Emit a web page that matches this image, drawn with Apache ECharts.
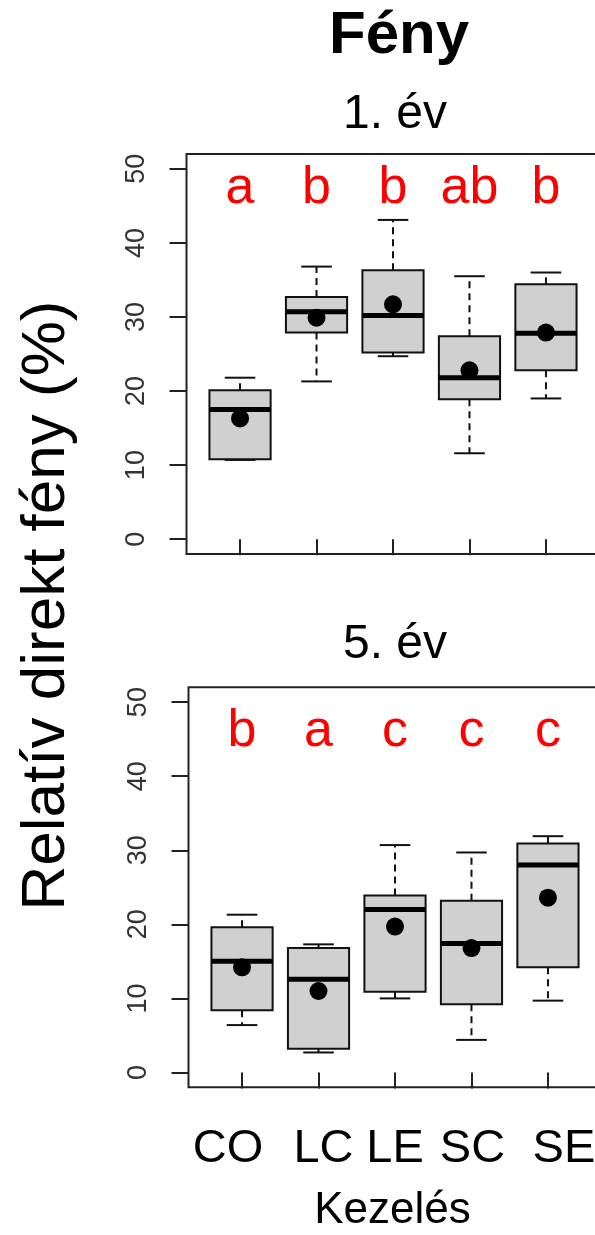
<!DOCTYPE html>
<html>
<head>
<meta charset="utf-8">
<script src="https://cdn.jsdelivr.net/npm/echarts@6/dist/echarts.min.js"></script>
<style>
html,body{margin:0;padding:0;background:#fff;}
#chart{width:595px;height:1235px;}
</style>
</head>
<body>
<div id="chart"></div>
<script>
// ---- data ----
const categories = ['CO', 'LC', 'LE', 'SC', 'SE'];
const yTicks = [0, 10, 20, 30, 40, 50];

// 1. év
const year1Min    = [10.7, 21.3, 24.7, 11.6, 19.0];
const year1Q1     = [10.8, 27.9, 25.2, 18.9, 22.8];
const year1Median = [17.5, 30.7, 30.2, 21.8, 27.8];
const year1Q3     = [20.1, 32.7, 36.3, 27.4, 34.4];
const year1Max    = [21.8, 36.8, 43.1, 35.5, 36.0];
const year1Mean   = [16.3, 29.9, 31.7, 22.8, 27.9];
const year1Letters = ['a', 'b', 'b', 'ab', 'b'];

// 5. év
const year5Min    = [6.4, 2.7, 10.0, 4.4, 9.7];
const year5Q1     = [8.4, 3.2, 10.9, 9.2, 14.2];
const year5Median = [15.0, 12.6, 22.0, 17.4, 28.0];
const year5Q3     = [19.6, 16.8, 23.9, 23.2, 30.9];
const year5Max    = [21.3, 17.3, 30.7, 29.7, 31.9];
const year5Mean   = [14.2, 11.0, 19.7, 16.8, 23.6];
const year5Letters = ['b', 'a', 'c', 'c', 'c'];

// ---- styles / layout ----
const FONT = '"Liberation Sans", Arial, Helvetica, sans-serif';
const letterLevel = [47.3, 46.0];
const labelShift = [-14, 5, 0, 1, 16];

function boxData(mn, q1, md, q3, mx) {
  return categories.map((c, i) => [i + 1, mn[i], q1[i], md[i], q3[i], mx[i]]);
}

function renderBox(params, api) {
  const x = api.value(0);
  const lo = api.value(1), q1 = api.value(2), med = api.value(3), q3 = api.value(4), hi = api.value(5);
  const unit = api.size([1, 0])[0];
  const hb = unit * 0.4, hc = unit * 0.2;
  const pLo = api.coord([x, lo]), pQ1 = api.coord([x, q1]), pMed = api.coord([x, med]);
  const pQ3 = api.coord([x, q3]), pHi = api.coord([x, hi]);
  const cx = pMed[0];
  const solid = { stroke: '#111', lineWidth: 2, fill: null };
  const dashed = { stroke: '#111', lineWidth: 2, lineDash: [7, 5], fill: null };
  return {
    type: 'group',
    children: [
      { type: 'line', shape: { x1: cx, y1: pQ3[1], x2: cx, y2: pHi[1] }, style: dashed },
      { type: 'line', shape: { x1: cx, y1: pQ1[1], x2: cx, y2: pLo[1] }, style: dashed },
      { type: 'line', shape: { x1: cx - hc, y1: pHi[1], x2: cx + hc, y2: pHi[1] }, style: solid },
      { type: 'line', shape: { x1: cx - hc, y1: pLo[1], x2: cx + hc, y2: pLo[1] }, style: solid },
      { type: 'rect', shape: { x: cx - hb, y: pQ3[1], width: 2 * hb, height: pQ1[1] - pQ3[1] },
        style: { fill: '#d0d0d0', stroke: '#111', lineWidth: 2 } },
      { type: 'line', shape: { x1: cx - hb, y1: pMed[1], x2: cx + hb, y2: pMed[1] },
        style: { stroke: '#000', lineWidth: 5 } }
    ]
  };
}

const grids = [
  { left: 186.5, top: 154, width: 413, height: 400 },
  { left: 188.5, top: 687.3, width: 413, height: 400 }
].map(g => Object.assign(g, { show: true, borderColor: '#222', borderWidth: 2,
  backgroundColor: 'transparent', containLabel: false, outerBoundsMode: 'none' }));

function xAxis(gi, showLabels) {
  return {
    type: 'value', gridIndex: gi, min: 0.3, max: 5.7,
    axisLine: { show: false }, splitLine: { show: false },
    axisTick: { show: true, inside: false, length: 16, customValues: [1, 2, 3, 4, 5],
      lineStyle: { color: '#222', width: 2 } },
    axisLabel: {
      show: showLabels, customValues: [1, 2, 3, 4, 5], margin: 38,
      fontSize: 47, fontFamily: FONT, color: '#000',
      formatter: v => '{s' + (Math.round(v) - 1) + '|' + categories[Math.round(v) - 1] + '}',
      rich: Object.fromEntries(labelShift.map((s, i) => ['s' + i, {
        fontSize: 47, fontFamily: FONT, color: '#000',
        padding: s >= 0 ? [0, 0, 0, 2 * s] : [0, -2 * s, 0, 0]
      }]))
    }
  };
}
function yAxis(gi) {
  return {
    type: 'value', gridIndex: gi, min: -2, max: 52,
    axisLine: { show: false }, splitLine: { show: false },
    axisTick: { show: true, inside: false, length: 17, customValues: yTicks,
      lineStyle: { color: '#222', width: 2 } },
    axisLabel: { customValues: yTicks, rotate: 90, margin: 36, fontSize: 27,
      fontFamily: FONT, color: '#333' }
  };
}

function panelSeries(gi, mn, q1, md, q3, mx, mean, letters) {
  return [
    { type: 'custom', xAxisIndex: gi, yAxisIndex: gi, renderItem: renderBox,
      data: boxData(mn, q1, md, q3, mx), clip: false, z: 2 },
    { type: 'scatter', xAxisIndex: gi, yAxisIndex: gi, symbol: 'circle', symbolSize: 18,
      itemStyle: { color: '#000', opacity: 1 }, data: categories.map((c, i) => [i + 1, mean[i]]), z: 3 },
    { type: 'scatter', xAxisIndex: gi, yAxisIndex: gi, symbolSize: 1,
      itemStyle: { color: 'rgba(0,0,0,0)', opacity: 1 },
      label: { show: true, position: 'inside', color: '#ff0000', fontSize: 52, fontFamily: FONT,
        formatter: p => p.data[2] },
      data: categories.map((c, i) => [i + 1, letterLevel[gi], letters[i]]), z: 4 }
  ];
}

const chart = echarts.init(document.getElementById('chart'), null, { renderer: 'canvas' });
chart.setOption({
  animation: false,
  backgroundColor: '#fff',
  grid: grids,
  xAxis: [xAxis(0, false), xAxis(1, true)],
  yAxis: [yAxis(0), yAxis(1)],
  series: [
    ...panelSeries(0, year1Min, year1Q1, year1Median, year1Q3, year1Max, year1Mean, year1Letters),
    ...panelSeries(1, year5Min, year5Q1, year5Median, year5Q3, year5Max, year5Mean, year5Letters)
  ],
  graphic: [
    { type: 'text', style: { text: 'Fény', x: 399, y: 36, align: 'center', verticalAlign: 'middle',
      font: 'bold 60px ' + FONT, fill: '#000' } },
    { type: 'text', style: { text: '1. év', x: 395, y: 115, align: 'center', verticalAlign: 'middle',
      font: '48px ' + FONT, fill: '#000' } },
    { type: 'text', style: { text: '5. év', x: 395, y: 645, align: 'center', verticalAlign: 'middle',
      font: '48px ' + FONT, fill: '#000' } },
    { type: 'text', style: { text: 'Kezelés', x: 392.5, y: 1211, align: 'center', verticalAlign: 'middle',
      font: '44px ' + FONT, fill: '#000' } },
    { type: 'text', x: 47, y: 605.5, rotation: Math.PI / 2,
      style: { text: 'Relatív direkt fény (%)', x: 0, y: 0, align: 'center', verticalAlign: 'middle',
      font: '62px ' + FONT, fill: '#000' } }
  ]
});
</script>
</body>
</html>
